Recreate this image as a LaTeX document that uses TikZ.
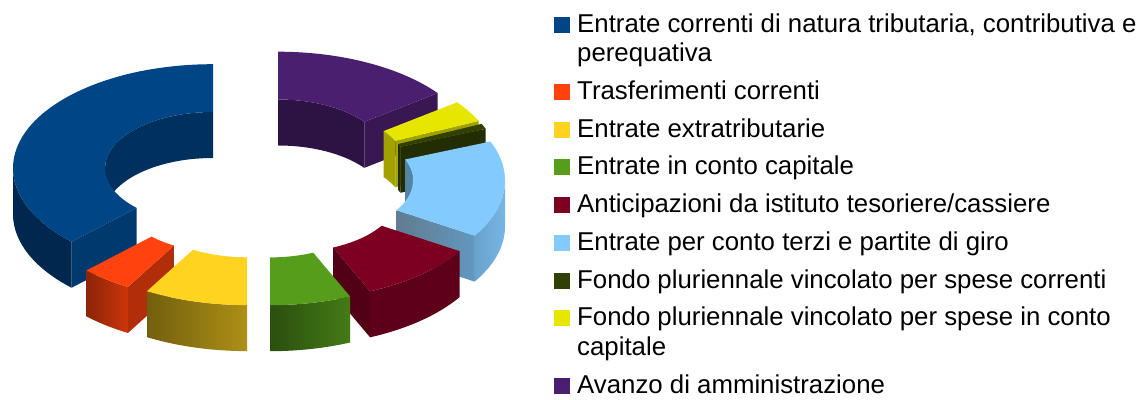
\documentclass[tikz,border=0pt]{standalone}
\usepackage{fontspec}
\setmainfont{Liberation Sans}
\usetikzlibrary{calc}
\definecolor{cBlue}{HTML}{004586}
\definecolor{cOrange}{HTML}{FF420E}
\definecolor{cYellow}{HTML}{FFD320}
\definecolor{cGreen}{HTML}{579D1C}
\definecolor{cRed}{HTML}{7E0021}
\definecolor{cLight}{HTML}{83CAFF}
\definecolor{cDkGreen}{HTML}{314004}
\definecolor{cYellowB}{HTML}{E6E600}
\definecolor{cPurple}{HTML}{4B1F6F}
% top face of a slice: centre, start angle, end angle, style
\newcommand\DnTop[4]{%
  \path[#4] ($(#1)+(#2:200 and 104)$) arc[start angle=#2,end angle=#3,x radius=200,y radius=104]
    -- ($(#1)+(#3:108 and 56.2)$) arc[start angle=#3,end angle=#2,x radius=108,y radius=56.2] -- cycle;}
% inner wall
\newcommand\DnInner[4]{%
  \path[#4] ($(#1)+(#2:108 and 56.2)$) arc[start angle=#2,end angle=#3,x radius=108,y radius=56.2]
    -- ++(0,-46) arc[start angle=#3,end angle=#2,x radius=108,y radius=56.2] -- cycle;}
% outer wall
\newcommand\DnOuter[4]{%
  \path[#4] ($(#1)+(#2:200 and 104)$) arc[start angle=#2,end angle=#3,x radius=200,y radius=104]
    -- ++(0,-46) arc[start angle=#3,end angle=#2,x radius=200,y radius=104] -- cycle;}
% radial cut face
\newcommand\DnRadial[3]{%
  \path[#3] ($(#1)+(#2:108 and 56.2)$) -- ($(#1)+(#2:200 and 104)$) -- ++(0,-46)
    -- ($(#1)+(#2:108 and 56.2)+(0,-46)$) -- cycle;}
\tikzset{
  legsq/.style={minimum size=16pt, inner sep=0pt, draw=none},
  legtxt/.style={anchor=base west, inner sep=0pt, font=\fontsize{25.8}{29.5}\selectfont, text=black},
}
\begin{document}
\begin{tikzpicture}[x=1pt,y=1pt]
\useasboundingbox (0,0) rectangle (1148,399);
\fill[white] (0,0) rectangle (1148,399);
% slice centres (y measured upwards)
\coordinate (cP) at (278,243.3);
\coordinate (cY2) at (297.4,234.1);
\coordinate (cDG) at (300.3,231.2);
\coordinate (cB) at (213,230.8);
\coordinate (cL) at (305,218.5);
\coordinate (cR) at (290,203);
\coordinate (cO) at (227.9,202.1);
\coordinate (cY) at (247,197.9);
\coordinate (cG) at (270,197.8);
% Avanzo di amministrazione
\DnRadial{cP}{37}{fill=cPurple!75!black}
\DnInner{cP}{37}{90}{fill=cPurple!60!black}
\DnTop{cP}{37}{90}{fill=cPurple}
% Fondo pluriennale ... in conto capitale
\DnRadial{cY2}{25}{fill=cYellowB!70!black}
\DnInner{cY2}{25}{37}{fill=cYellowB!70!black}
\DnTop{cY2}{25}{37}{fill=cYellowB}
% Fondo pluriennale ... correnti
\DnRadial{cDG}{22}{fill=cDkGreen!70!black}
\DnInner{cDG}{22}{25}{fill=cDkGreen!70!black}
\DnTop{cDG}{22}{25}{fill=cDkGreen}
% Entrate correnti di natura tributaria
\DnInner{cB}{90}{180}{fill=cBlue!70!black}
\DnOuter{cB}{180}{225}{fill=cBlue!58!black}
\DnRadial{cB}{225}{fill=cBlue!82!black}
\DnTop{cB}{90}{225}{fill=cBlue}
% Entrate per conto terzi
\DnRadial{cL}{328}{left color=cLight!45!black!80!white, right color=cLight!75!black}
\DnOuter{cL}{328}{360}{left color=cLight!80!black, right color=cLight!90!black}
\DnInner{cL}{360}{382}{fill=cLight!65!black}
\DnTop{cL}{328}{382}{fill=cLight}
% Anticipazioni
\DnRadial{cR}{293.6}{fill=cRed!65!black}
\DnOuter{cR}{293.6}{328}{fill=cRed!75!black}
\DnTop{cR}{293.6}{328}{fill=cRed}
% Trasferimenti correnti
\DnOuter{cO}{225}{240}{left color=cOrange!55!black, right color=cOrange!80!black}
\DnRadial{cO}{240}{fill=cOrange!70!black}
\DnTop{cO}{225}{240}{fill=cOrange}
% Entrate extratributarie
\DnOuter{cY}{240}{270}{left color=cYellow!45!black, right color=cYellow!68!black}
\DnTop{cY}{240}{270}{fill=cYellow}
% Entrate in conto capitale
\DnOuter{cG}{270}{293.6}{left color=cGreen!50!black, right color=cGreen!78!black}
\DnTop{cG}{270}{293.6}{fill=cGreen}
% legend
\node[legsq, fill=cBlue]    (s1) at (562,374.3) {};
\node[legsq, fill=cOrange]  (s2) at (562,307) {};
\node[legsq, fill=cYellow]  (s3) at (562,269) {};
\node[legsq, fill=cGreen]   (s4) at (562,232) {};
\node[legsq, fill=cRed]     (s5) at (562,194) {};
\node[legsq, fill=cLight]   (s6) at (562,156) {};
\node[legsq, fill=cDkGreen] (s7) at (562,118) {};
\node[legsq, fill=cYellowB] (s8) at (562,81) {};
\node[legsq, fill=cPurple]  (s9) at (562,13) {};
\node[legtxt] (t1) at (577,366.5) {Entrate correnti di natura tributaria, contributiva e};
\node[legtxt] (t1b) at (577,337) {perequativa};
\node[legtxt] (t2) at (577,299.2) {Trasferimenti correnti};
\node[legtxt] (t3) at (577,261.2) {Entrate extratributarie};
\node[legtxt] (t4) at (577,224.2) {Entrate in conto capitale};
\node[legtxt] (t5) at (577,186.2) {Anticipazioni da istituto tesoriere/cassiere};
\node[legtxt] (t6) at (577,148.2) {Entrate per conto terzi e partite di giro};
\node[legtxt] (t7) at (577,110.2) {Fondo pluriennale vincolato per spese correnti};
\node[legtxt] (t8) at (577,73.2) {Fondo pluriennale vincolato per spese in conto};
\node[legtxt] (t8b) at (577,43.7) {capitale};
\node[legtxt] (t9) at (577,5.2) {Avanzo di amministrazione};
\end{tikzpicture}
\end{document}
